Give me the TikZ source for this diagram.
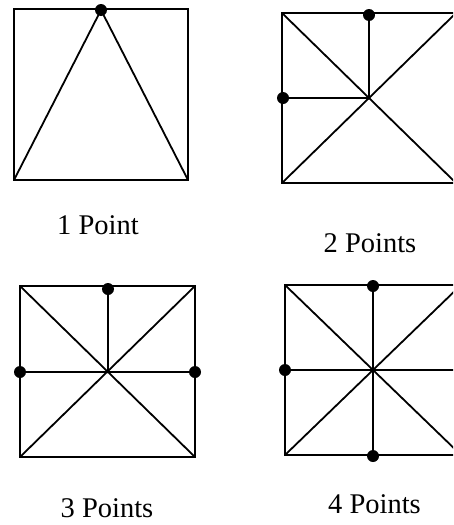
\documentclass[tikz,border=0pt]{standalone}
\usepackage{fontspec}
\setmainfont{Liberation Serif}
\usetikzlibrary{calc}
\begin{document}
\begin{tikzpicture}[x=1pt,y=-1pt,
  edge/.style={line width=1.8pt,line join=miter},
  pt/.style={circle,fill=black,inner sep=0pt,minimum size=12pt},
  lab/.style={font=\fontsize{28.5}{30}\selectfont,inner sep=0pt,anchor=base}]
\clip (0,0) rectangle (453,525);
% Square 1
\coordinate (a1) at (14,9); \coordinate (b1) at (188,9);
\coordinate (c1) at (188,180); \coordinate (d1) at (14,180);
\coordinate (t1) at (101,10);
\draw[edge] (a1) rectangle (c1);
\draw[edge] (d1) -- (t1) -- (c1);
\node[pt] at (t1) {};
\node[lab] (l1) at (98,234) {1 Point};
% Square 2
\coordinate (a2) at (282,13); \coordinate (c2) at (456,183);
\coordinate (b2) at (456,13); \coordinate (d2) at (282,183);
\coordinate (o2) at (369,98);
\coordinate (m2l) at (282,98); \coordinate (m2t) at (369,13);
\draw[edge] (a2) rectangle (c2);
\draw[edge] (a2) -- (c2) (b2) -- (d2);
\draw[edge] (m2l) -- (o2) -- (m2t);
\node[pt] at ($(m2l)+(1,0)$) {};
\node[pt] at ($(m2t)+(0,2)$) {};
\node[lab] (l2) at (370,252) {2 Points};
% Square 3
\coordinate (a3) at (20,286); \coordinate (c3) at (195,457);
\coordinate (b3) at (195,286); \coordinate (d3) at (20,457);
\coordinate (o3) at (108,372);
\coordinate (m3l) at (20,372); \coordinate (m3r) at (195,372);
\coordinate (m3t) at (108,286);
\draw[edge] (a3) rectangle (c3);
\draw[edge] (a3) -- (c3) (b3) -- (d3);
\draw[edge] (m3l) -- (m3r) (m3t) -- (o3);
\node[pt] at (m3l) {};
\node[pt] at (m3r) {};
\node[pt] at ($(m3t)+(0,3)$) {};
\node[lab] (l3) at (107,517) {3 Points};
% Square 4
\coordinate (a4) at (285,285); \coordinate (c4) at (461,455);
\coordinate (b4) at (461,285); \coordinate (d4) at (285,455);
\coordinate (o4) at (373,370);
\coordinate (m4l) at (285,370); \coordinate (m4r) at (461,370);
\coordinate (m4t) at (373,285); \coordinate (m4b) at (373,455);
\draw[edge] (a4) rectangle (c4);
\draw[edge] (a4) -- (c4) (b4) -- (d4);
\draw[edge] (m4l) -- (m4r) (m4t) -- (m4b);
\node[pt] at (m4l) {};
\node[pt] at ($(m4t)+(0,1)$) {};
\node[pt] at ($(m4b)+(0,1)$) {};
\node[lab] (l4) at (374.5,513) {4 Points};
\end{tikzpicture}
\end{document}
